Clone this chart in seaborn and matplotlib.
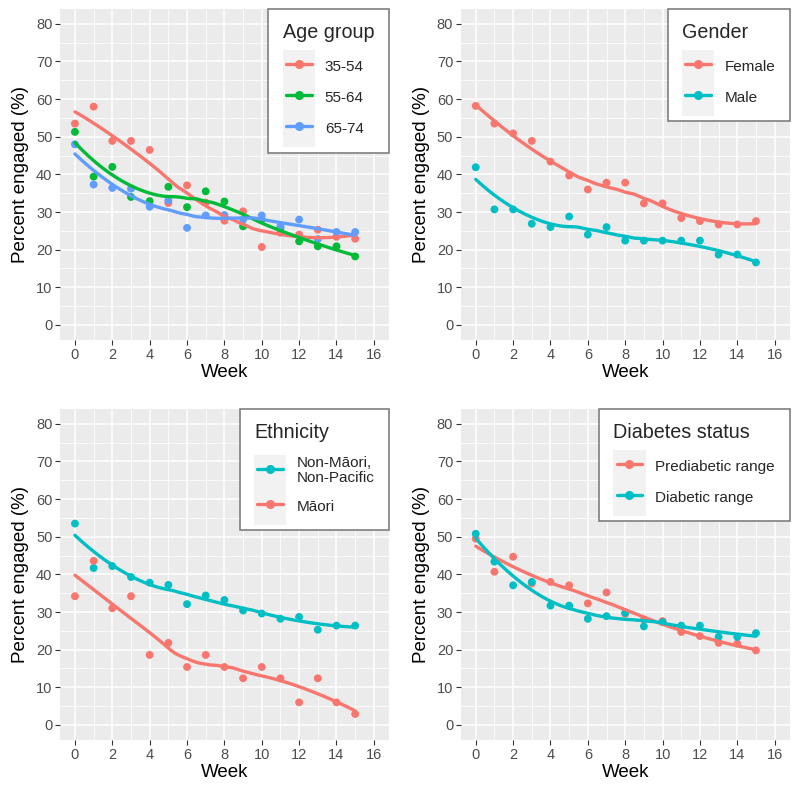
import numpy as np
import pandas as pd
import matplotlib
matplotlib.use("Agg")
import matplotlib.pyplot as plt
import seaborn as sns
from matplotlib.lines import Line2D
from matplotlib.patches import Rectangle
from matplotlib.legend_handler import HandlerLine2D
from matplotlib.ticker import MultipleLocator

# ---------------- data ----------------
weeks = list(range(16))

age_labels = ["35-54", "55-64", "65-74"]
age_35_54 = [53.5, 58.0, 48.9, 48.9, 46.5, 32.4, 37.1, 32.5, 27.7, 30.2, 20.7, 24.5, 24.0, 25.3, 23.4, 22.9]
age_55_64 = [51.3, 39.4, 42.0, 34.0, 32.9, 36.7, 31.3, 35.5, 32.8, 26.2, 28.0, 25.8, 22.2, 20.9, 20.9, 18.2]
age_65_74 = [48.0, 37.3, 36.4, 36.2, 31.4, 33.1, 25.8, 29.1, 29.2, 28.0, 29.1, 26.2, 28.0, 22.8, 24.7, 24.7]

gender_labels = ["Female", "Male"]
female = [58.2, 53.5, 50.9, 48.9, 43.4, 39.7, 36.0, 37.8, 37.8, 32.3, 32.3, 28.4, 27.6, 26.7, 26.7, 27.6]
male = [41.9, 30.7, 30.7, 26.9, 26.0, 28.8, 24.0, 26.0, 22.4, 22.4, 22.4, 22.4, 22.4, 18.7, 18.7, 16.6]

eth_labels = ["Non-Māori,\nNon-Pacific", "Māori"]
non_maori = [53.5, 41.7, 42.2, 39.3, 37.8, 37.2, 32.1, 34.4, 33.2, 30.4, 29.6, 28.2, 28.7, 25.3, 26.4, 26.4]
maori = [34.2, 43.6, 31.0, 34.2, 18.6, 21.8, 15.4, 18.6, 15.4, 12.4, 15.4, 12.4, 6.0, 12.4, 6.0, 2.9]

diab_labels = ["Prediabetic range", "Diabetic range"]
prediabetic = [49.5, 40.7, 44.7, 37.6, 38.0, 37.1, 32.3, 35.2, 29.5, 28.0, 27.6, 24.7, 23.6, 21.8, 21.6, 19.8]
diabetic = [50.8, 43.4, 37.1, 38.0, 31.7, 31.7, 28.2, 28.9, 29.8, 26.2, 27.3, 26.4, 26.4, 23.4, 23.4, 24.4]

RED = "#F8766D"
GREEN = "#00BA38"
BLUE = "#619CFF"
TEAL = "#00BFC4"


def loess(x, y, xs, span=0.75):
    x = np.asarray(x, float)
    y = np.asarray(y, float)
    n = len(x)
    q = int(np.floor(n * span))
    out = []
    for x0 in xs:
        d = np.abs(x - x0)
        dmax = np.sort(d)[q - 1]
        w = np.clip(1 - (d / dmax) ** 3, 0, None) ** 3
        X = np.vstack([np.ones(n), x - x0, (x - x0) ** 2]).T
        W = np.sqrt(w)
        beta, *_ = np.linalg.lstsq(X * W[:, None], y * W, rcond=None)
        out.append(beta[0])
    return np.array(out)


class KeyHandler(HandlerLine2D):
    """Line + point legend key drawn on a light grey key background."""
    def __init__(self, pad_top=0.6, pad_bottom=0.6, **kw):
        super().__init__(**kw)
        self.pad_top = pad_top
        self.pad_bottom = pad_bottom

    def create_artists(self, legend, orig_handle, xdescent, ydescent, width,
                       height, fontsize, trans):
        arts = super().create_artists(legend, orig_handle, xdescent, ydescent,
                                      width, height, fontsize, trans)
        inset = 0.2 * fontsize
        for a in arts:
            xd = np.asarray(a.get_xdata(), float)
            if len(xd) >= 2:
                x0, x1 = xd[0] + inset, xd[-1] - inset
                a.set_xdata([x0, 0.5 * (x0 + x1), x1])
                a.set_ydata([a.get_ydata()[0]] * 3)
                a.set_markevery([1])
        pb = self.pad_bottom * fontsize
        pt = self.pad_top * fontsize
        bg = Rectangle((-xdescent, -ydescent - pb),
                       width, height + pb + pt,
                       facecolor="#F2F2F2", edgecolor="none", transform=trans)
        return [bg] + list(arts)


sns.set_theme(style="darkgrid", rc={
    "axes.facecolor": "#EBEBEB",
    "grid.color": "white",
    "axes.edgecolor": "#EBEBEB",
})
plt.rcParams["font.family"] = ["Liberation Sans", "DejaVu Sans"]

fig = plt.figure(figsize=(8, 8), dpi=100)
W = 0.411
H = 0.414
positions = [
    [0.075, 0.575, W, H],
    [0.576, 0.575, W, H],
    [0.075, 0.075, W, H],
    [0.576, 0.075, W, H],
]

panels = [
    ("Age group", age_labels, [age_35_54, age_55_64, age_65_74], [RED, GREEN, BLUE]),
    ("Gender", gender_labels, [female, male], [RED, TEAL]),
    ("Ethnicity", eth_labels, [non_maori, maori], [TEAL, RED]),
    ("Diabetes status", diab_labels, [prediabetic, diabetic], [RED, TEAL]),
]

xs = np.linspace(0, 15, 120)

for pos, (title, labels, series, colors) in zip(positions, panels):
    ax = fig.add_axes(pos)
    pts = pd.concat([pd.DataFrame({"Week": weeks, "val": v, "grp": lab})
                     for lab, v in zip(labels, series)])
    fits = pd.concat([pd.DataFrame({"Week": xs, "val": loess(weeks, v, xs), "grp": lab})
                      for lab, v in zip(labels, series)])
    pal = dict(zip(labels, colors))
    sns.scatterplot(data=pts, x="Week", y="val", hue="grp", palette=pal, ax=ax,
                    s=32, linewidth=0, legend=False, zorder=3)
    sns.lineplot(data=fits, x="Week", y="val", hue="grp", palette=pal, ax=ax,
                 linewidth=2.4, legend=False, zorder=4)

    ax.set_xlim(-0.8, 16.8)
    ax.set_ylim(-4, 84)
    ax.xaxis.set_major_locator(MultipleLocator(2))
    ax.xaxis.set_minor_locator(MultipleLocator(1))
    ax.yaxis.set_major_locator(MultipleLocator(10))
    ax.yaxis.set_minor_locator(MultipleLocator(5))
    ax.grid(which="major", color="white", linewidth=1.1)
    ax.grid(which="minor", color="white", linewidth=0.55)
    for sp in ax.spines.values():
        sp.set_visible(False)
    ax.tick_params(axis="both", which="major", direction="out", length=3.5, width=0.8,
                   color="#333333", labelcolor="#4D4D4D", labelsize=10.5, pad=2,
                   bottom=True, left=True)
    ax.tick_params(axis="both", which="minor", length=0)
    ax.set_xlabel("Week", fontsize=13.5, color="black", labelpad=2)
    ax.set_ylabel("Percent engaged (%)", fontsize=13.5, color="black", labelpad=5)

    handles = [Line2D([], [], color=c, linewidth=2.4, marker="o", markersize=5.5)
               for c in colors]
    hmap = {}
    for i, (h, lab) in enumerate(zip(handles, labels)):
        last = i == len(labels) - 1
        pb = 1.3 if ("\n" in lab and not last) else 0.6
        hmap[h] = KeyHandler(pad_top=0.4, pad_bottom=pb)
    leg = ax.legend(handles, labels, title=title, loc="upper right",
                    borderaxespad=0, frameon=True, fancybox=False,
                    framealpha=1, fontsize=11, title_fontsize=14.2,
                    handlelength=2.1, handleheight=1.6, labelspacing=0.75,
                    borderpad=0.95, handletextpad=0.65, alignment="left",
                    handler_map=hmap)
    for t in leg.get_texts():
        t.set_linespacing(1.05)
    leg.get_frame().set_edgecolor("#7F7F7F")
    leg.get_frame().set_linewidth(1.2)
    leg.get_frame().set_facecolor("white")
    leg._legend_box.sep = 10
    leg.set_zorder(10)

fig.savefig("out.png", dpi=100)
